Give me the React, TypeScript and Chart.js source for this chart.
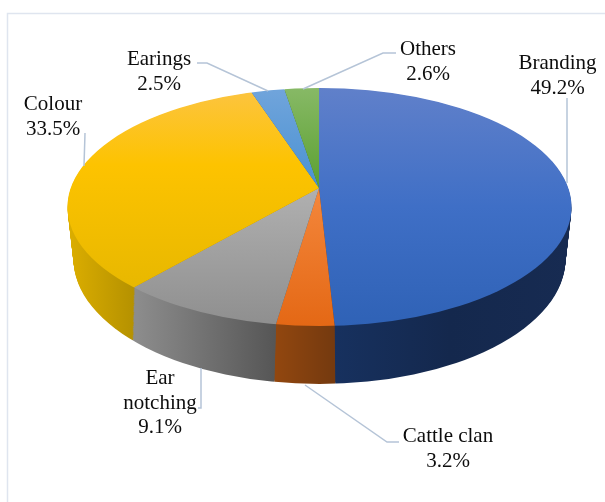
import { useEffect, useRef } from "react";
import { Chart, registerables } from "chart.js";

Chart.register(...registerables);

const categories = ["Branding", "Cattle clan", "Ear notching", "Colour", "Earings", "Others"];
const values = [49.2, 3.2, 9.1, 33.5, 2.5, 2.6];
const baseColors = ["#4472c4", "#ed7d31", "#a5a5a5", "#ffc000", "#5b9bd5", "#70ad47"];

// top-face gradients: [y, colour] stops, wall gradients: [x, colour] stops
const topStops: [number, string][][] = [
  [[88, "#6080ca"], [207, "#3f6fc6"], [326, "#2f62b6"]],
  [[188, "#f4873c"], [326, "#e46815"]],
  [[188, "#b0b0b0"], [324, "#8f8f8f"]],
  [[90, "#fcc440"], [165, "#fdc300"], [287, "#e8b800"]],
  [[90, "#70a4db"], [188, "#4a92d3"]],
  [[88, "#87b966"], [188, "#5ba030"]],
];
const wallStops: [number, string][][] = [
  [[333, "#17315f"], [450, "#14284d"], [571, "#172b52"]],
  [[275, "#92470f"], [333, "#753a0f"]],
  [[137, "#8c8c8c"], [275, "#565656"]],
  [[68, "#dcae00"], [137, "#b39000"]],
  [[250, "#2f5f8f"], [290, "#2f5f8f"]],
  [[280, "#3f6b2a"], [320, "#3f6b2a"]],
];

const labelLines = [["Branding"], ["Cattle clan"], ["Ear", "notching"], ["Colour"], ["Earings"], ["Others"]];
const labelAnchors = [
  { x: 557.5, y: 69 },
  { x: 448, y: 442 },
  { x: 160, y: 384 },
  { x: 53, y: 110 },
  { x: 159, y: 65 },
  { x: 428, y: 55 },
];
const leaders: number[][][] = [
  [[567, 98], [567, 183]],
  [[305, 385], [387, 442], [399, 442]],
  [[198, 408], [201, 408], [201, 368]],
  [[85, 133], [84, 166]],
  [[197, 63], [207, 63], [268, 91]],
  [[396, 53], [383, 53], [303, 89]],
];

const Y_SCALE = 0.47;
const APEX_X = 319;
const APEX_Y = 188;

const pie3d = {
  id: "pie3d",
  beforeDraw(chart: any) {
    const ctx = chart.ctx;
    ctx.save();
    ctx.fillStyle = "#ffffff";
    ctx.fillRect(0, 0, 605, 502);
    ctx.strokeStyle = "#dfe5ef";
    ctx.lineWidth = 1.5;
    ctx.beginPath();
    ctx.moveTo(605, 13.5);
    ctx.lineTo(7.5, 13.5);
    ctx.lineTo(7.5, 502);
    ctx.stroke();
    ctx.restore();
  },
  beforeDatasetsDraw(chart: any) {
    const ctx = chart.ctx;
    const arcs = chart.getDatasetMeta(0).data;
    const pass = (shift: number, rx: number, ry: number, cy: number, fills: any[]) => {
      ctx.save();
      ctx.beginPath();
      ctx.ellipse(319.5, cy, rx, ry, 0, 0, Math.PI * 2);
      ctx.clip();
      ctx.translate(0, APEX_Y + shift);
      ctx.scale(1, Y_SCALE);
      ctx.translate(0, -APEX_Y);
      arcs.forEach((arc: any, i: number) => {
        const original = arc.options;
        arc.options = { ...original, backgroundColor: fills[i] };
        arc.draw(ctx);
        arc.options = original;
      });
      ctx.restore();
    };
    const toScaled = (y: number) => APEX_Y + (y - APEX_Y) / Y_SCALE;
    const wallFills = wallStops.map((stops) => {
      const a = stops[0][0];
      const b = stops[stops.length - 1][0];
      const g = ctx.createLinearGradient(a, 0, b, 0);
      stops.forEach(([p, c]) => g.addColorStop((p - a) / (b - a), c));
      return g;
    });
    const topFills = topStops.map((stops) => {
      const a = stops[0][0];
      const b = stops[stops.length - 1][0];
      const g = ctx.createLinearGradient(0, toScaled(a), 0, toScaled(b));
      stops.forEach(([p, c]) => g.addColorStop((p - a) / (b - a), c));
      return g;
    });
    const steps = 58;
    for (let i = steps; i >= 1; i--) {
      const t = i / steps;
      pass(52 * t, 252 - 6 * t, 119 + 6 * t, 207 + 52 * t, wallFills);
    }
    pass(0, 252, 119, 207, topFills);
    return false;
  },
  afterDraw(chart: any) {
    const ctx = chart.ctx;
    ctx.save();
    ctx.strokeStyle = "#b5c4d7";
    ctx.lineWidth = 1.5;
    leaders.forEach((pts) => {
      ctx.beginPath();
      pts.forEach(([x, y], i) => (i ? ctx.lineTo(x, y) : ctx.moveTo(x, y)));
      ctx.stroke();
    });
    ctx.fillStyle = "#0d0d0d";
    ctx.font = '21px "Liberation Serif"';
    ctx.textAlign = "center";
    ctx.textBaseline = "alphabetic";
    categories.forEach((_, i) => {
      const lines = [...labelLines[i], `${values[i].toFixed(1)}%`];
      lines.forEach((line, j) => {
        ctx.fillText(line, labelAnchors[i].x, labelAnchors[i].y + j * 24.7);
      });
    });
    ctx.restore();
  },
};

export default function App() {
  const ref = useRef<HTMLCanvasElement>(null);
  useEffect(() => {
    document.body.style.margin = "0";
    const chart = new Chart(ref.current!, {
      type: "pie",
      data: {
        labels: categories,
        datasets: [{ data: values, backgroundColor: baseColors, borderWidth: 0, radius: 340 }],
      },
      options: {
        responsive: false,
        animation: false,
        layout: { padding: { left: APEX_X * 2 - 605, right: 0, top: 0, bottom: 126 } },
        plugins: { legend: { display: false }, tooltip: { enabled: false } },
      },
      plugins: [pie3d],
    } as any);
    return () => chart.destroy();
  }, []);
  return <canvas ref={ref} width={605} height={502} style={{ display: "block" }} />;
}
